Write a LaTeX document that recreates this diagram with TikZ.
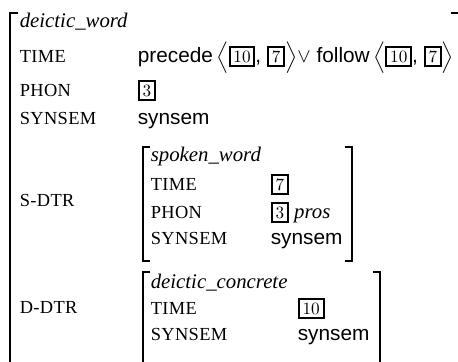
\documentclass[tikz,border=0pt]{standalone}
\usepackage{fontspec}
\setmainfont{Liberation Serif}
\setsansfont{Liberation Sans}
\newfontfamily\tagfont{lmroman10-regular.otf}
\newfontfamily\featfont[LetterSpace=2]{Liberation Serif}
\newcommand{\tg}[1]{{\setlength{\fboxrule}{1pt}\setlength{\fboxsep}{1.4pt}\fbox{\tagfont\fontsize{8.6}{9}\selectfont #1}}}
\newcommand{\la}{\scalebox{1}[0.88]{$\Bigl\langle$}}
\newcommand{\ra}{\scalebox{1}[0.88]{$\Bigr\rangle$}}
\tikzset{
  feat/.style={anchor=base west,inner sep=0pt,font=\fontsize{9.2}{11}\selectfont\featfont},
  avmtype/.style={feat,font=\fontsize{10.4}{12.5}\selectfont\itshape},
  tagval/.style={feat,font=\fontsize{10.4}{12.5}\selectfont\rmfamily},
  val/.style={feat,font=\fontsize{10.4}{12.5}\selectfont\sffamily}
}
\begin{document}
\begin{tikzpicture}[x=0.5pt,y=-0.5pt,line width=0.8pt]
		\def\xl{19}
		\def\xv{137}
		\def\xil{150}
		\useasboundingbox (0,0) rectangle (458,361);
		\clip (0,0) rectangle (458,361);
		%
		\draw (18,13)--(10,13)--(10,375);
		\draw (451,13)--(459.6,13)--(459.6,375);
		\node [avmtype] (dword) at (\xl,27) {deictic\_word};
		\node [feat] (time) at (\xl,62) {TIME};
		\node [val] (timev) at (\xv,62) {precede\,\la\tg{10}, \tg{7}\ra$\vee$ follow\,\la\tg{10}, \tg{7}\ra};
		\node [feat] (phon) at (\xl,96) {PHON};
		\node [tagval] (phonv) at (\xv,96) {\tg{3}};
		\node [feat] (syn) at (\xl,124) {SYNSEM};
		\node [val] (synv) at (\xv,124) {synsem};
		\node [feat] (sdtr) at (\xl,206) {S-DTR};
		\node [feat] (ddtr) at (\xl,313) {D-DTR};
		%
		\draw (150,147)--(143,147)--(143,261)--(150,261);
		\draw (345,147)--(352,147)--(352,261)--(345,261);
		\node [avmtype] (sword) at (\xil,161) {spoken\_word};
		\node [feat] (stime) at (\xil,190) {TIME};
		\node [tagval] (stimev) at (270,190) {\tg{7}};
		\node [feat] (sphon) at (\xil,218) {PHON};
		\node [tagval] (sphonv) at (270,218) {\tg{3} \textit{pros}};
		\node [feat] (ssyn) at (\xil,244) {SYNSEM};
		\node [val] (ssynv) at (270,244) {synsem};
		%
		\draw (150,272)--(143,272)--(143,375);
		\draw (373,272)--(380,272)--(380,375);
		\node [avmtype] (dconc) at (\xil,288) {deictic\_concrete};
		\node [feat] (dtime) at (\xil,314) {TIME};
		\node [tagval] (dtimev) at (297,314) {\tg{10}};
		\node [feat] (dsyn) at (\xil,340) {SYNSEM};
		\node [val] (dsynv) at (297,340) {synsem};
	\end{tikzpicture}
\end{document}
